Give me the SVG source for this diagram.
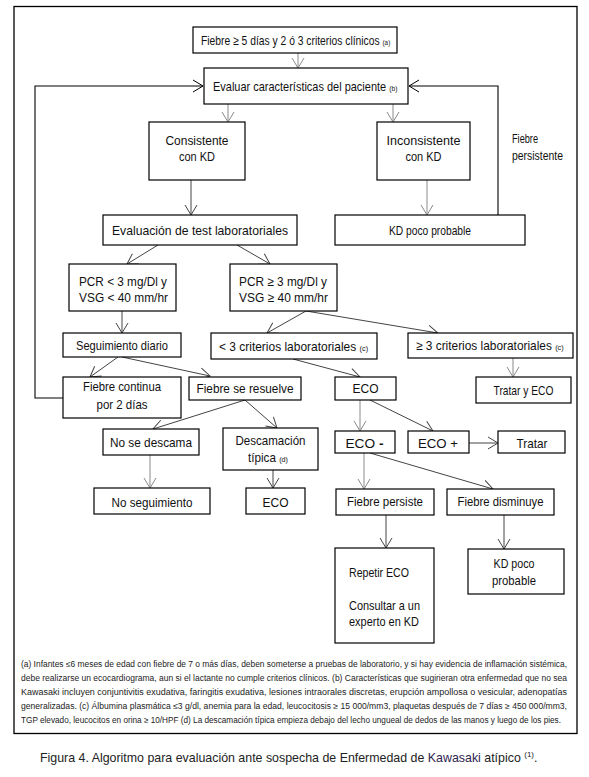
<svg xmlns="http://www.w3.org/2000/svg" width="589" height="777" viewBox="0 0 589 777">
<style>
.bx{fill:#fff;stroke:#000;stroke-width:1.2}
.t{font-family:"Liberation Sans Narrow","Liberation Sans",Arial,sans-serif;font-size:13px;fill:#111;text-anchor:middle}
.l{text-anchor:start}
.s{font-size:8px}
.c{fill:none;stroke:#444;stroke-width:1;marker-end:url(#ah)}
.g{stroke:#8a8a8a;marker-end:url(#ahg)}
.k{fill:none;stroke:#000;stroke-width:1.1;marker-end:url(#ahk)}
.fn{font-family:"Liberation Sans Narrow","Liberation Sans",Arial,sans-serif;font-size:8.3px;fill:#222}
.cap{font-family:"Liberation Sans",Arial,sans-serif;font-size:12.4px;fill:#222}
</style>
<defs>
<marker id="ah" markerUnits="userSpaceOnUse" markerWidth="12" markerHeight="14" viewBox="0 0 12 14" refX="11" refY="7" orient="auto"><path d="M1,1 L11,7 L1,13" fill="none" stroke="#444" stroke-width="1"/></marker>
<marker id="ahg" markerUnits="userSpaceOnUse" markerWidth="12" markerHeight="14" viewBox="0 0 12 14" refX="11" refY="7" orient="auto"><path d="M1,1 L11,7 L1,13" fill="none" stroke="#8a8a8a" stroke-width="1"/></marker>
<marker id="ahk" markerUnits="userSpaceOnUse" markerWidth="12" markerHeight="14" viewBox="0 0 12 14" refX="11" refY="7" orient="auto"><path d="M1,1 L11,7 L1,13" fill="none" stroke="#000" stroke-width="1"/></marker>
</defs>
<rect width="589" height="777" fill="#fff"/>
<rect x="14" y="6.5" width="563" height="727" fill="none" stroke="#000" stroke-width="1.3"/>

<g id="connectors">
<path class="k" d="M63,398 H35 V86 H203"/>
<path class="k" d="M498,215 V86 H409"/>
<path class="c g" d="M298,53 V68"/>
<path class="c g" d="M228,104 V122"/>
<path class="c g" d="M393,104 V122"/>
<path class="c" d="M191,180 V215"/>
<path class="c g" d="M427,180 V215"/>
<path class="c" d="M158,245 L127,264"/>
<path class="c" d="M237,245 L270,264"/>
<path class="c" d="M122,311 V333"/>
<path class="c" d="M306,311 L267,333"/>
<path class="c" d="M306,311 L438,333"/>
<path class="c" d="M118,357 L90,377"/>
<path class="c" d="M122,357 L210,376"/>
<path class="c" d="M293,359 L360,377"/>
<path class="c g" d="M513,358 V377"/>
<path class="c" d="M245,400 L153,429"/>
<path class="c" d="M245,400 L277,428"/>
<path class="c g" d="M360,400 V431"/>
<path class="c" d="M370,400 L433,431"/>
<path class="c" d="M469,443 H498"/>
<path class="c g" d="M150,455 V488"/>
<path class="c" d="M273,470 V488"/>
<path class="c g" d="M364,453 V489"/>
<path class="c" d="M370,453 L493,489"/>
<path class="c" d="M386,515 V548"/>
<path class="c" d="M504,515 V549"/>
</g>

<g id="n1"><rect class="bx" x="193" y="27" width="204" height="26"/><text class="t l" transform="translate(201,45) scale(0.794,1)">Fiebre ≥ 5 días y 2 ó 3 criterios clínicos <tspan class="s">(a)</tspan></text></g>
<g id="n2"><rect class="bx" x="204" y="68" width="204" height="36"/><text class="t l" transform="translate(213,91) scale(0.845,1)">Evaluar características del paciente <tspan class="s">(b)</tspan></text></g>
<g id="n3"><rect class="bx" x="149" y="122" width="96" height="58"/><text class="t" x="197" y="145" textLength="63" lengthAdjust="spacingAndGlyphs">Consistente</text><text class="t" x="197" y="161" textLength="36" lengthAdjust="spacingAndGlyphs">con KD</text></g>
<g id="n4"><rect class="bx" x="377" y="122" width="93" height="58"/><text class="t" x="423.5" y="145" textLength="74" lengthAdjust="spacingAndGlyphs">Inconsistente</text><text class="t" x="423.5" y="161" textLength="36" lengthAdjust="spacingAndGlyphs">con KD</text></g>
<g id="lbl-fiebre-persistente"><text class="t l" x="512" y="143" textLength="26" lengthAdjust="spacingAndGlyphs">Fiebre</text><text class="t l" x="512" y="160" textLength="51" lengthAdjust="spacingAndGlyphs">persistente</text></g>
<g id="n5"><rect class="bx" x="103" y="215" width="194" height="30"/><text class="t" x="200" y="235" textLength="176" lengthAdjust="spacingAndGlyphs">Evaluación de test laboratoriales</text></g>
<g id="n6"><rect class="bx" x="335" y="215" width="190" height="30"/><text class="t" x="430" y="235" textLength="82" lengthAdjust="spacingAndGlyphs">KD poco probable</text></g>
<g id="n7"><rect class="bx" x="69" y="264" width="107" height="47"/><text class="t l" x="79" y="286" textLength="88" lengthAdjust="spacingAndGlyphs">PCR &lt; 3 mg/Dl y</text><text class="t l" x="79" y="302" textLength="89" lengthAdjust="spacingAndGlyphs">VSG &lt; 40 mm/hr</text></g>
<g id="n8"><rect class="bx" x="230" y="264" width="107" height="47"/><text class="t l" x="239" y="286" textLength="88" lengthAdjust="spacingAndGlyphs">PCR ≥ 3 mg/Dl y</text><text class="t l" x="239" y="302" textLength="89" lengthAdjust="spacingAndGlyphs">VSG ≥ 40 mm/hr</text></g>
<g id="n9"><rect class="bx" x="63" y="333" width="118" height="24"/><text class="t" x="122" y="350" textLength="92" lengthAdjust="spacingAndGlyphs">Seguimiento diario</text></g>
<g id="n10"><rect class="bx" x="211" y="333" width="166" height="26"/><text class="t l" transform="translate(219,351) scale(0.92,1)">&lt; 3 criterios laboratoriales <tspan class="s">(c)</tspan></text></g>
<g id="n11"><rect class="bx" x="408" y="333" width="165" height="25"/><text class="t l" transform="translate(416,350) scale(0.915,1)">≥ 3 criterios laboratoriales <tspan class="s">(c)</tspan></text></g>
<g id="n12"><rect class="bx" x="63" y="377" width="118" height="41"/><text class="t" x="122" y="391" textLength="78" lengthAdjust="spacingAndGlyphs">Fiebre continua</text><text class="t" x="122" y="409" textLength="51" lengthAdjust="spacingAndGlyphs">por 2 días</text></g>
<g id="n13"><rect class="bx" x="189" y="377" width="112" height="23"/><text class="t" x="245" y="393" textLength="97" lengthAdjust="spacingAndGlyphs">Fiebre se resuelve</text></g>
<g id="n14"><rect class="bx" x="335" y="377" width="61" height="23"/><text class="t" x="365.5" y="393" textLength="26" lengthAdjust="spacingAndGlyphs">ECO</text></g>
<g id="n15"><rect class="bx" x="476" y="377" width="95" height="26"/><text class="t" x="523.5" y="395" textLength="60" lengthAdjust="spacingAndGlyphs">Tratar y ECO</text></g>
<g id="n16"><rect class="bx" x="103" y="429" width="96" height="26"/><text class="t" x="151" y="447" textLength="82" lengthAdjust="spacingAndGlyphs">No se descama</text></g>
<g id="n17"><rect class="bx" x="223" y="428" width="95" height="42"/><text class="t" x="270.5" y="445" textLength="70" lengthAdjust="spacingAndGlyphs">Descamación</text><text class="t l" transform="translate(248,462) scale(0.9,1)">típica <tspan class="s">(d)</tspan></text></g>
<g id="n18"><rect class="bx" x="335" y="431" width="60" height="22"/><text class="t" x="364.5" y="448" textLength="38" lengthAdjust="spacingAndGlyphs">ECO <tspan font-weight="bold">-</tspan></text></g>
<g id="n19"><rect class="bx" x="408" y="431" width="61" height="22"/><text class="t" x="438" y="448" textLength="40" lengthAdjust="spacingAndGlyphs">ECO +</text></g>
<g id="n20"><rect class="bx" x="498" y="431" width="67" height="22"/><text class="t" x="532" y="448" textLength="31" lengthAdjust="spacingAndGlyphs">Tratar</text></g>
<g id="n21"><rect class="bx" x="94" y="488" width="116" height="26"/><text class="t" x="152" y="507" textLength="81" lengthAdjust="spacingAndGlyphs">No seguimiento</text></g>
<g id="n22"><rect class="bx" x="246" y="488" width="59" height="26"/><text class="t" x="275.5" y="507" textLength="26" lengthAdjust="spacingAndGlyphs">ECO</text></g>
<g id="n23"><rect class="bx" x="336" y="489" width="98" height="26"/><text class="t" x="385" y="506" textLength="76" lengthAdjust="spacingAndGlyphs">Fiebre persiste</text></g>
<g id="n24"><rect class="bx" x="447" y="489" width="107" height="26"/><text class="t" x="500.5" y="506" textLength="86" lengthAdjust="spacingAndGlyphs">Fiebre disminuye</text></g>
<g id="n25"><rect class="bx" x="335" y="548" width="99" height="95"/><text class="t l" x="349" y="577" textLength="60" lengthAdjust="spacingAndGlyphs">Repetir ECO</text><text class="t l" x="349" y="610" textLength="71" lengthAdjust="spacingAndGlyphs">Consultar a un</text><text class="t l" x="349" y="626" textLength="70" lengthAdjust="spacingAndGlyphs">experto en KD</text></g>
<g id="n26"><rect class="bx" x="468" y="549" width="96" height="45"/><text class="t" x="514" y="568" textLength="41" lengthAdjust="spacingAndGlyphs">KD poco</text><text class="t" x="514" y="585" textLength="44" lengthAdjust="spacingAndGlyphs">probable</text></g>

<g id="footnotes">
<text class="fn" x="21" y="667" textLength="546" lengthAdjust="spacingAndGlyphs">(a) Infantes ≤6 meses de edad con fiebre de 7 o más días, deben someterse a pruebas de laboratorio, y si hay evidencia de inflamación sistémica,</text>
<text class="fn" x="21" y="681" textLength="546" lengthAdjust="spacingAndGlyphs">debe realizarse un ecocardiograma, aun si el lactante no cumple criterios clínicos.  (b) Características que sugirieran otra enfermedad que no sea</text>
<text class="fn" x="21" y="695" textLength="546" lengthAdjust="spacingAndGlyphs">Kawasaki incluyen conjuntivitis exudativa, faringitis exudativa, lesiones intraorales discretas, erupción ampollosa o vesicular, adenopatías</text>
<text class="fn" x="21" y="709" textLength="546" lengthAdjust="spacingAndGlyphs">generalizadas.  (c) Álbumina plasmática ≤3 g/dl, anemia para la edad, leucocitosis ≥ 15 000/mm3, plaquetas después de 7 días ≥ 450 000/mm3,</text>
<text class="fn" x="21" y="723" textLength="540" lengthAdjust="spacingAndGlyphs">TGP elevado, leucocitos en orina ≥ 10/HPF  (d) La descamación típica empieza debajo del lecho ungueal de dedos de las manos y luego de los pies.</text>
</g>
<g id="caption">
<text class="cap" x="40" y="762">Figura 4. Algoritmo para evaluación ante sospecha de Enfermedad de <tspan fill="#2e2450">Kawasaki</tspan> atípico <tspan font-size="8" dy="-5">(1)</tspan><tspan dy="5">.</tspan></text>
</g>
</svg>
